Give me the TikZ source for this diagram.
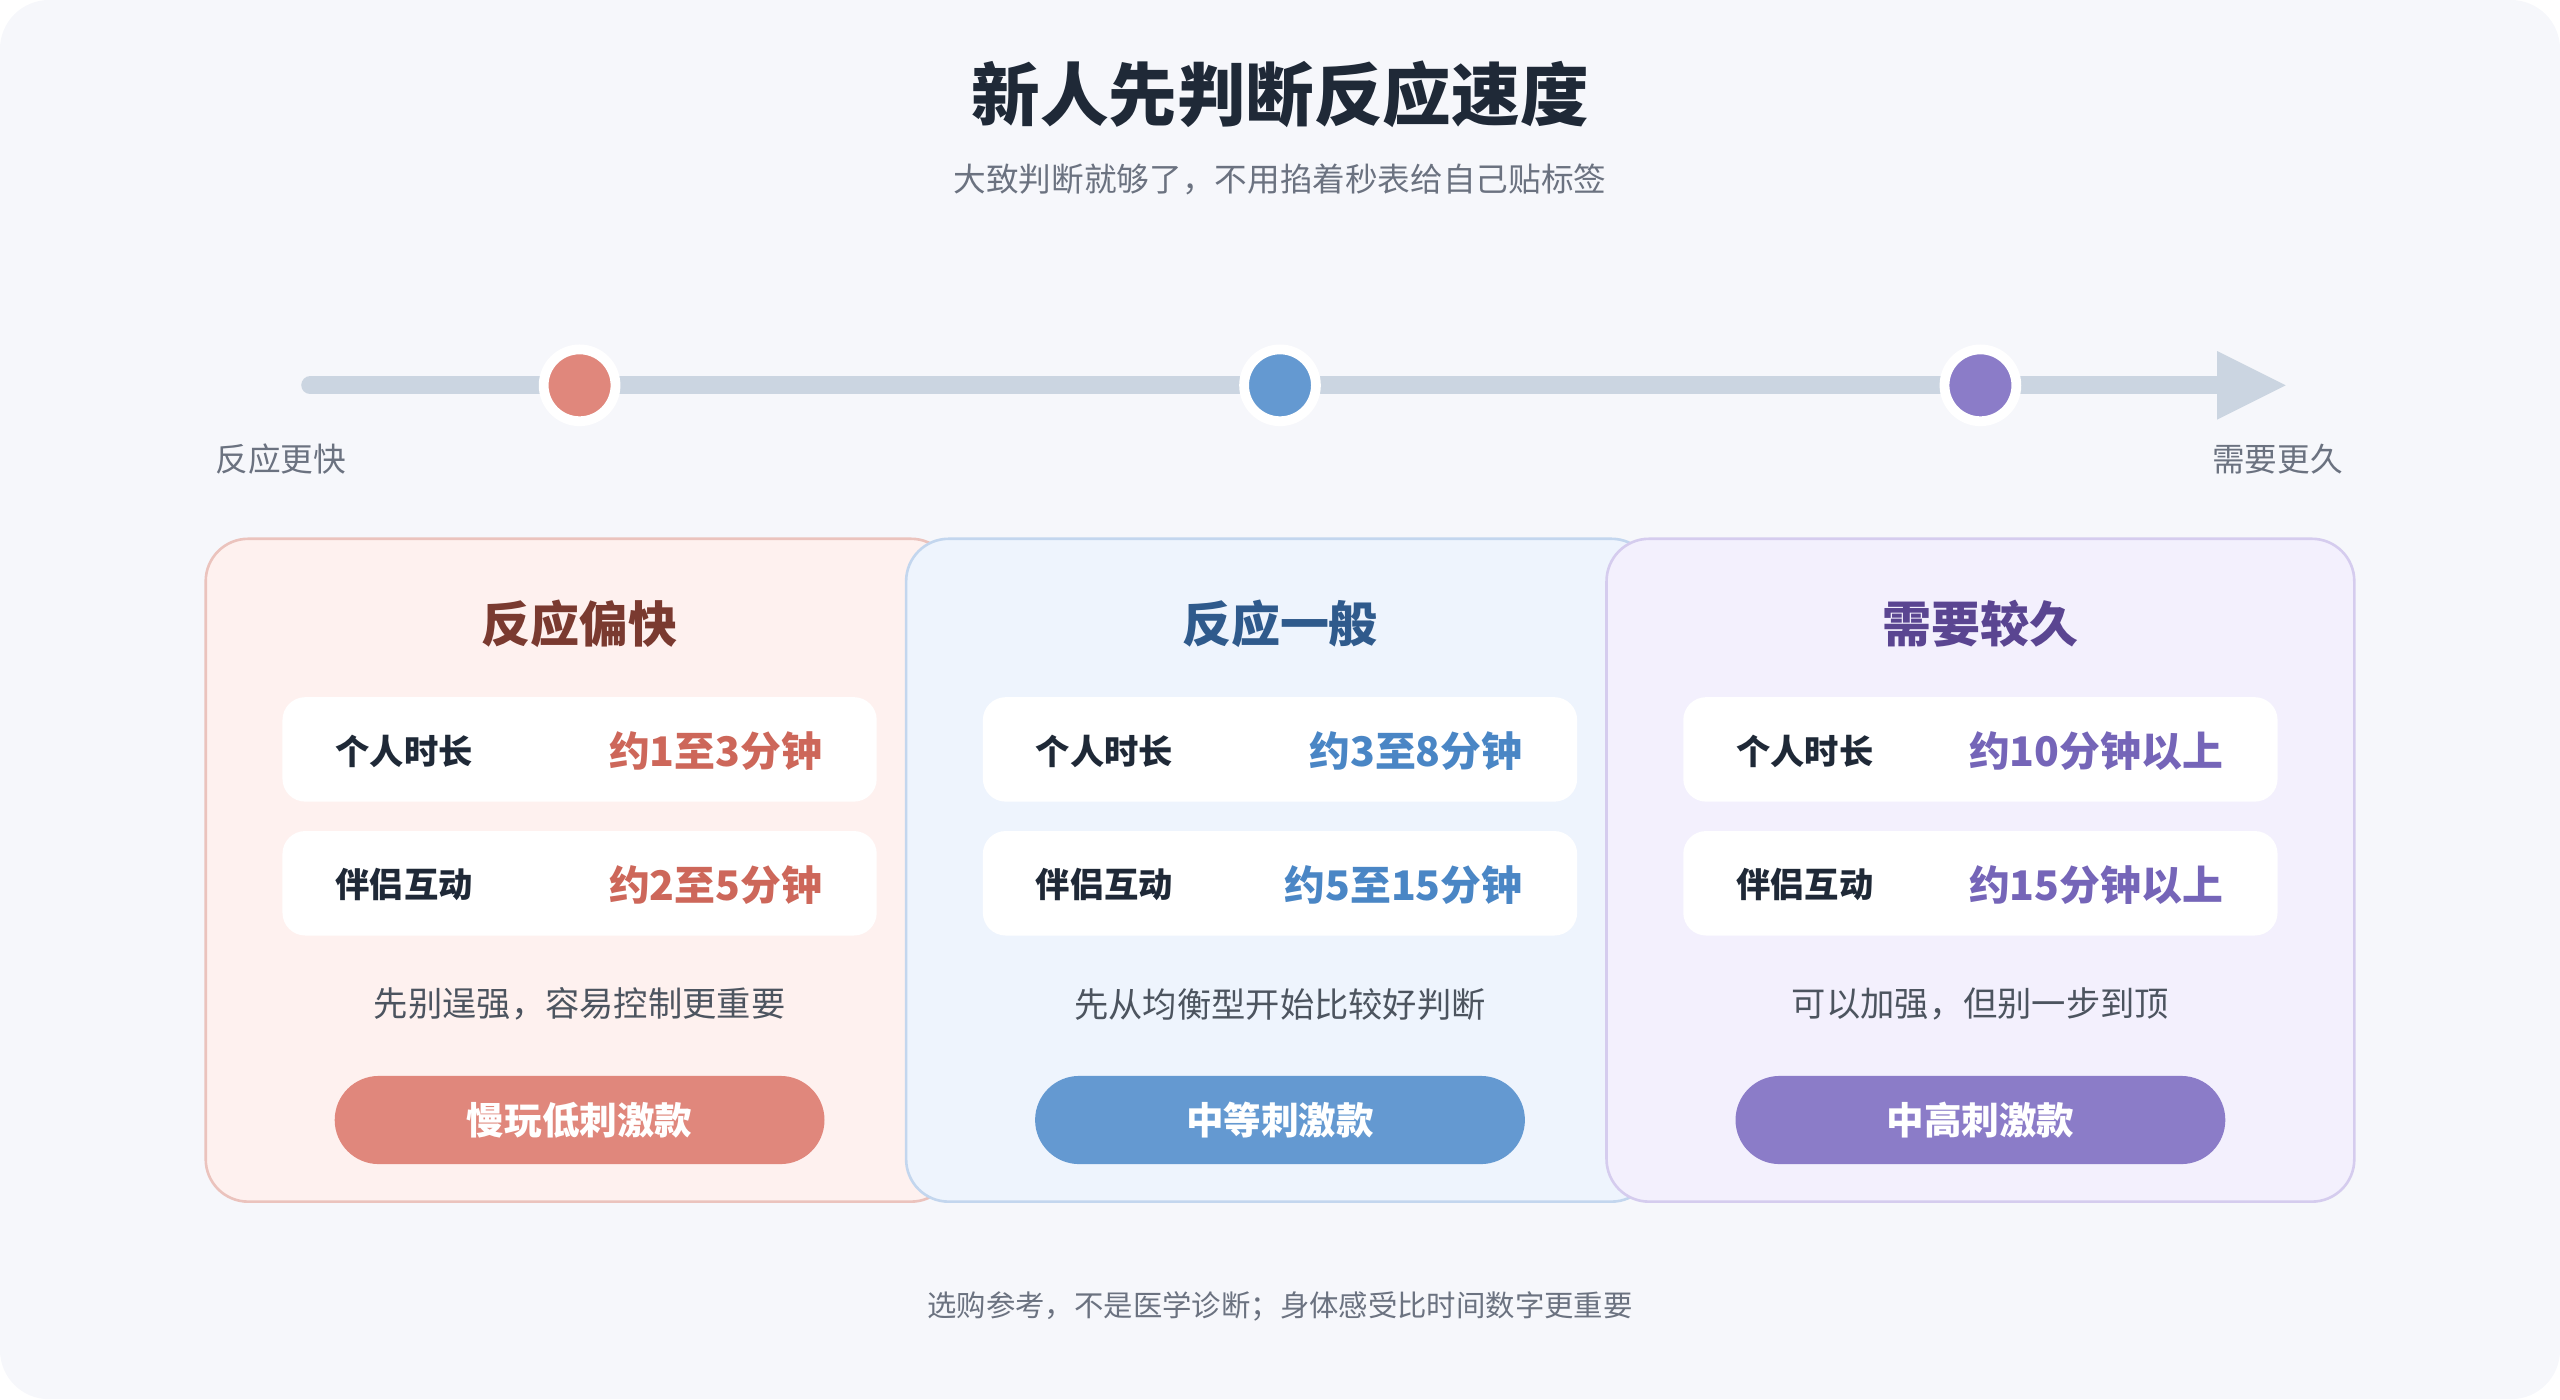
\documentclass[tikz,border=0pt]{standalone}
\usepackage{fontspec}
\setmainfont{Noto Sans CJK SC}
\begin{document}
\definecolor{bg}{HTML}{F6F7FB}
\definecolor{txt}{HTML}{1F2937}
\definecolor{gr}{HTML}{6B7280}
\definecolor{tl}{HTML}{CBD5E1}
\definecolor{cA}{HTML}{E0877C}\definecolor{cB}{HTML}{6499D1}\definecolor{cC}{HTML}{8B7CC8}
\definecolor{fA}{HTML}{FEF1EF}\definecolor{fB}{HTML}{EEF4FD}\definecolor{fC}{HTML}{F3F0FD}
\definecolor{bA}{HTML}{EBC3BD}\definecolor{bB}{HTML}{C3D6EE}\definecolor{bC}{HTML}{D5CCEE}
\definecolor{tA}{HTML}{7A3A30}\definecolor{tB}{HTML}{2F5A8C}\definecolor{tC}{HTML}{5A4591}
\definecolor{vA}{HTML}{CD675A}\definecolor{vB}{HTML}{4A86C5}\definecolor{vC}{HTML}{7565B8}
\begin{tikzpicture}[x=1pt,y=-1pt,
  fs/.style={font=\fontsize{#1}{#1}\selectfont},
  card/.style={rounded corners=26pt,line width=1.6pt},
  row/.style={fill=white,rounded corners=14pt,draw=none},
  lab/.style={anchor=west,fs=21,font=\bfseries\fontsize{21}{21}\selectfont,text=txt},
  val/.style={anchor=east,font=\bfseries\fontsize{25}{25}\selectfont},
  note/.style={font=\fontsize{21}{21}\selectfont,text=txt!80},
  pill/.style={rounded corners=27pt,draw=none},
  dot/.style={circle,minimum size=44pt,draw=white,line width=6pt,inner sep=0}]
\fill[bg,rounded corners=30pt] (0,0) rectangle (1568,857);
\useasboundingbox (0,0) rectangle (1568,857);
\node[font=\bfseries\fontsize{42}{42}\selectfont,text=txt] (title) at (784,58) {新人先判断反应速度};
\node[font=\fontsize{20}{20}\selectfont,text=gr] (sub) at (784,110) {大致判断就够了，不用掐着秒表给自己贴标签};
\coordinate (ls) at (190,236);\coordinate (le) at (1362,236);
\draw[tl,line width=11pt,line cap=round] (ls) -- (le);
\fill[tl] (1358,215) -- (1400,236) -- (1358,257) -- cycle;
\node[dot,fill=cA] (d1) at (355,236) {};
\node[dot,fill=cB] (d2) at (784,236) {};
\node[dot,fill=cC] (d3) at (1213,236) {};
\node[font=\fontsize{20}{20}\selectfont,text=gr] (fast) at (172,281) {反应更快};
\node[font=\fontsize{20}{20}\selectfont,text=gr] (slow) at (1395,281) {需要更久};
\foreach \cx/\f/\b/\t/\v/\c/\ti/\va/\vb/\nt/\bt/\n in {
 355/fA/bA/tA/vA/cA/反应偏快/约1至3分钟/约2至5分钟/先别逞强，容易控制更重要/慢玩低刺激款/a,
 784/fB/bB/tB/vB/cB/反应一般/约3至8分钟/约5至15分钟/先从均衡型开始比较好判断/中等刺激款/b,
 1213/fC/bC/tC/vC/cC/需要较久/约10分钟以上/约15分钟以上/可以加强，但别一步到顶/中高刺激款/c}{
 \draw[card,fill=\f,draw=\b] (\cx-229,330) rectangle (\cx+229,736);
 \node[font=\bfseries\fontsize{30}{30}\selectfont,text=\t] (h\n) at (\cx,382) {\ti};
 \fill[row] (\cx-182,427) rectangle (\cx+182,491);
 \fill[row] (\cx-182,509) rectangle (\cx+182,573);
 \node[lab] (l1\n) at (\cx-153,460) {个人时长};
 \node[val,text=\v] (v1\n) at (\cx+152,460) {\va};
 \node[lab] (l2\n) at (\cx-153,542) {伴侣互动};
 \node[val,text=\v] (v2\n) at (\cx+152,542) {\vb};
 \node[note] (n\n) at (\cx,615) {\nt};
 \fill[pill,\c] (\cx-150,659) rectangle (\cx+150,713);
 \node[font=\bfseries\fontsize{23}{23}\selectfont,text=white] (p\n) at (\cx,686) {\bt};
}
\node[font=\fontsize{18}{18}\selectfont,text=gr] (foot) at (784,800) {选购参考，不是医学诊断；身体感受比时间数字更重要};
\end{tikzpicture}
\end{document}
